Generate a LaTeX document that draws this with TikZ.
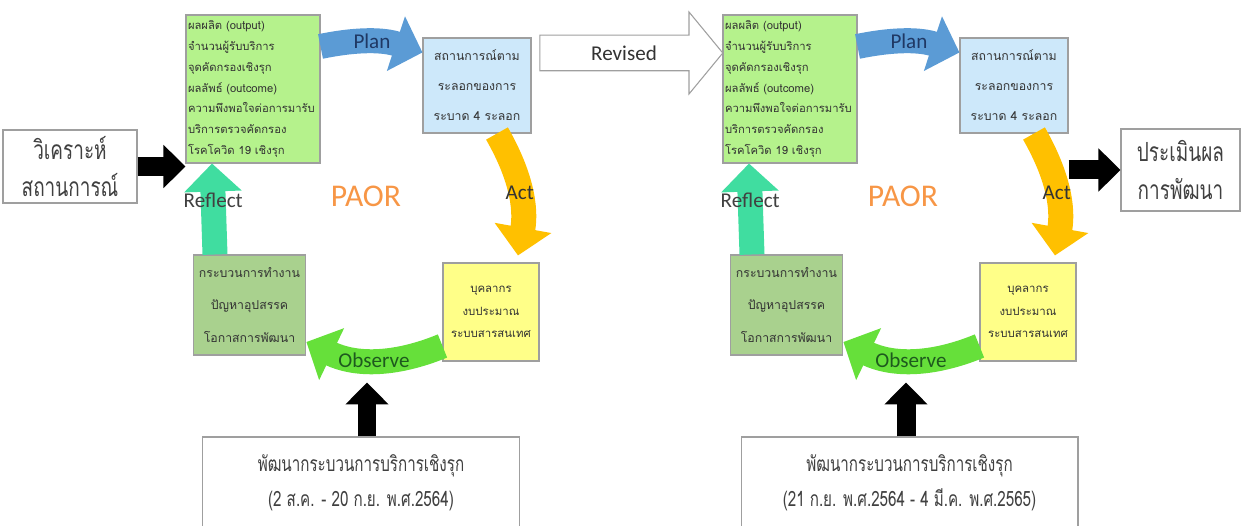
\documentclass[tikz,border=0pt]{standalone}
\usepackage{fontspec}
\setmainfont{Carlito}
\newfontfamily\thaifont[Script=Thai]{Loma}
\newfontfamily\thainarrow[Script=Thai, FakeStretch=0.72]{Loma}
\usepackage{tikz}
\usetikzlibrary{shapes,arrows,arrows.meta}
\definecolor{outgreen}{HTML}{B5F28C}
\definecolor{sitblue}{HTML}{CDE8FA}
\definecolor{resyellow}{HTML}{FFFF88}
\definecolor{probgreen}{HTML}{A9D18E}
\definecolor{planblue}{HTML}{5B9BD5}
\definecolor{actorange}{HTML}{FFC000}
\definecolor{obsgreen}{HTML}{66E03A}
\definecolor{refmint}{HTML}{40DDA0}
\definecolor{paororange}{HTML}{F79646}
\definecolor{navy}{HTML}{1F3864}
\definecolor{darkgreen}{HTML}{1E5A1E}
\tikzstyle{box} = [rectangle, draw=gray!75, line width=0.6pt, align=center,
    text=black!80, font=\thaifont\fontsize{7}{17}\selectfont]
\tikzstyle{note} = [box, fill=white, text=black!75,
    font=\thainarrow\fontsize{15}{21.5}\selectfont]
\tikzstyle{fat} = [line width=0.5cm, -{Triangle[width=1.12cm,length=0.56cm]}]
\tikzstyle{push} = [black, line width=0.38cm, -{Triangle[width=0.84cm,length=0.44cm]}]
\tikzstyle{steptext} = [font=\fontsize{12}{14}\selectfont]

\begin{document}
\begin{tikzpicture}[x=0.02cm, y=-0.02cm]
\useasboundingbox (0,0) rectangle (1242,526);
\foreach \s/\n in {0/a,537/b}{
\node [box, fill=outgreen, align=left, text width=2.6cm, minimum height=2.96cm, inner sep=0.04cm,
    font=\thaifont\fontsize{6.4}{11.8}\selectfont] at (\s+253,89) (out\n)
    {ผลผลิต (output)\\จำนวนผู้รับบริการ\\จุดคัดกรองเชิงรุก\\ผลลัพธ์ (outcome)\\ความพึงพอใจต่อการมารับ\\บริการตรวจคัดกรอง\\โรคโควิด 19 เชิงรุก};
\node [box, fill=sitblue, minimum width=2.16cm, minimum height=1.9cm] at (\s+477,85.5) (sit\n)
    {สถานการณ์ตาม\\ระลอกของการ\\ระบาด 4 ระลอก};
\node [box, fill=resyellow, minimum width=1.92cm, minimum height=1.96cm,
    font=\thaifont\fontsize{6.5}{12.8}\selectfont] at (\s+491,312) (res\n)
    {บุคลากร\\งบประมาณ\\ระบบสารสนเทศ};
\node [box, fill=probgreen, minimum width=2.14cm, minimum height=2cm,
    font=\thaifont\fontsize{7}{18.7}\selectfont] at (\s+249.5,305) (prob\n)
    {กระบวนการทำงาน\\ปัญหาอุปสรรค\\โอกาสการพัฒนา};
\node [text=paororange, font=\fontsize{18}{20}\selectfont] at (\s+366,196) (paor\n) {PAOR};

\draw [fat, planblue] ([yshift=-0.64cm] out\n.north east) to[bend left=15]
    node[steptext, text=navy] {Plan} ([yshift=-0.3cm] sit\n.north west);
\draw [fat, actorange] ([xshift=0.4cm] sit\n.south) to[bend left=20]
    node[steptext, text=black!80] {Act} ([xshift=0.54cm, yshift=0.14cm] res\n.north);
\draw [fat, obsgreen] ([yshift=-0.68cm] res\n.west) to[bend left=24]
    node[steptext, text=darkgreen] {Observe} ([yshift=-0.74cm] prob\n.east);
\draw [fat, refmint] ([xshift=-0.69cm] prob\n.north) --
    node[steptext, pos=0.6, text=black!75] {Reflect} ([xshift=-0.82cm] out\n.south);
}

\node [note, minimum width=2.68cm, minimum height=1.46cm] at (70,166.5) (ana) {วิเคราะห์\\สถานการณ์};
\node [note, minimum width=2.38cm, minimum height=1.64cm] at (1180.5,170) (evalbox) {ประเมินผล\\การพัฒนา};
\node [note, minimum width=6.36cm, minimum height=1.84cm, font=\thainarrow\fontsize{12}{20}\selectfont]
    at (361,483) (deva) {พัฒนากระบวนการบริการเชิงรุก\\(2 ส.ค. - 20 ก.ย. พ.ศ.2564)};
\node [note, minimum width=6.74cm, minimum height=1.84cm, font=\thainarrow\fontsize{12}{20}\selectfont]
    at (909.5,483) (devb) {พัฒนากระบวนการบริการเชิงรุก\\(21 ก.ย. พ.ศ.2564 - 4 มี.ค. พ.ศ.2565)};
\node [single arrow, draw=gray!75, fill=white, line width=0.6pt, minimum height=3.66cm, minimum width=1.64cm,
    single arrow head extend=0.36cm, single arrow tip angle=101, text=black!80,
    font=\fontsize{12}{14}\selectfont] at (624,53) (revised) {Revised\hspace{0.5cm}};

\draw [push] (ana.east) -- (ana.east -| outa.west);
\draw [push] (evalbox.west -| sitb.east) -- (evalbox.west);
\draw [push] ([xshift=0.12cm] deva.north) -- ([xshift=0.12cm, yshift=1.08cm] deva.north);
\draw [push] ([xshift=-0.07cm] devb.north) -- ([xshift=-0.07cm, yshift=1.08cm] devb.north);
\end{tikzpicture}
\end{document}
